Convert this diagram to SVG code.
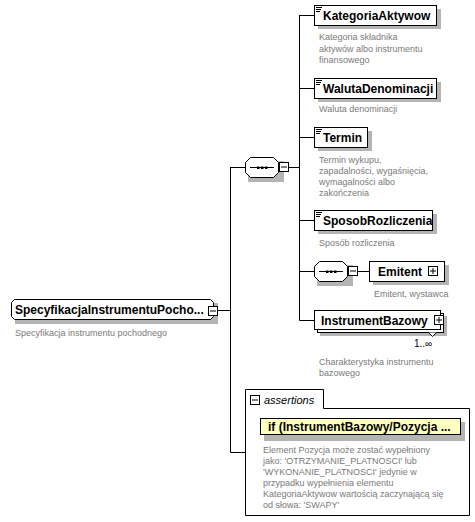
<svg xmlns="http://www.w3.org/2000/svg" width="475" height="522" viewBox="0 0 475 522">
<style>
.box{fill:#fff;stroke:#000;stroke-width:1}
.sh{fill:#b4b4b4;stroke:none}
.ln{fill:none;stroke:#000;stroke-width:1}
.nm{font-family:"Liberation Sans",Arial,sans-serif;font-size:12px;font-weight:bold;fill:#000}
.ds{font-family:"Liberation Sans",Arial,sans-serif;font-size:9px;fill:#7a7a7a}
.oc{font-family:"Liberation Sans",Arial,sans-serif;font-size:10px;fill:#000}
.it{font-family:"Liberation Sans",Arial,sans-serif;font-size:11px;font-style:italic;fill:#000}
</style>
<defs>
<g id="icon"><path d="M0,0.5H6M0,2.5H5M0,4.5H4" stroke="#000" stroke-width="1" fill="none"/></g>
<g id="minus"><rect x="0.5" y="0.5" width="9" height="9" fill="#fff" stroke="#000"/><path d="M2,5H8" stroke="#000"/></g>
<g id="plus"><rect x="0.5" y="0.5" width="9" height="9" fill="#fff" stroke="#000"/><path d="M2,5H8M5,2V8" stroke="#000"/></g>
<g id="seq">
<path d="M3,3H39V24H3Z" class="sh" transform="translate(1,1)"/>
<path d="M6.5,0.5H29.5L34.5,5.5V15.5L29.5,20.5H6.5L1.5,15.5V5.5Z" fill="#fff" stroke="#000"/>
<path d="M6,10.5H30" stroke="#000"/>
<rect x="13" y="9.5" width="2.5" height="2.5" fill="#000"/>
<rect x="17" y="9.5" width="2.5" height="2.5" fill="#000"/>
<rect x="21" y="9.5" width="2.5" height="2.5" fill="#000"/>
</g>
</defs>

<g id="connectors">
<path class="ln" d="M217,310.5H230.5M230.5,167V452.5H245"/>
<path class="ln" d="M230.5,167.5H245"/>
<path class="ln" d="M289,167.5H299.5M299.5,15V320.5"/>
<path class="ln" d="M299.5,15.5H314M299.5,88.5H314M299.5,137.5H314M299.5,220.5H314M299.5,271.5H314M299.5,320.5H314"/>
<path class="ln" d="M358,271.5H369"/>
</g>

<g id="SpecyfikacjaInstrumentuPochodnego">
<rect class="sh" x="15" y="303" width="203" height="21"/>
<path class="box" d="M14.5,299.5H210.5L213.5,302.5V316.5L210.5,319.5H14.5L11.5,316.5V302.5Z"/>
<text class="nm" x="15" y="314">SpecyfikacjaInstrumentuPocho...</text>
<use href="#minus" x="208" y="306"/>
<text class="ds" x="15" y="336">Specyfikacja instrumentu pochodnego</text>
</g>

<g id="sequence1">
<use href="#seq" x="244" y="157"/>
<use href="#minus" x="279" y="162"/>
</g>

<g id="KategoriaAktywow">
<rect class="sh" x="318" y="9" width="123" height="20"/>
<rect class="box" x="314.5" y="5.5" width="122" height="20"/>
<use href="#icon" x="316" y="7"/>
<text class="nm" x="323" y="20">KategoriaAktywow</text>
<text class="ds" x="319" y="40">Kategoria składnika</text>
<text class="ds" x="319" y="51.5">aktywów albo instrumentu</text>
<text class="ds" x="319" y="63">finansowego</text>
</g>

<g id="WalutaDenominacji">
<rect class="sh" x="318" y="82" width="123" height="20"/>
<rect class="box" x="314.5" y="78.5" width="122" height="20"/>
<use href="#icon" x="316" y="80"/>
<text class="nm" x="323" y="93">WalutaDenominacji</text>
<text class="ds" x="319" y="112">Waluta denominacji</text>
</g>

<g id="Termin">
<rect class="sh" x="318" y="131" width="54" height="20"/>
<rect class="box" x="314.5" y="127.5" width="53" height="20"/>
<use href="#icon" x="316" y="129"/>
<text class="nm" x="323" y="142">Termin</text>
<text class="ds" x="319" y="163">Termin wykupu,</text>
<text class="ds" x="319" y="174">zapadalności, wygaśnięcia,</text>
<text class="ds" x="319" y="185">wymagalności albo</text>
<text class="ds" x="319" y="196">zakończenia</text>
</g>

<g id="SposobRozliczenia">
<rect class="sh" x="318" y="214" width="119" height="20"/>
<rect class="box" x="314.5" y="210.5" width="118" height="20"/>
<use href="#icon" x="316" y="212"/>
<text class="nm" x="323" y="225">SposobRozliczenia</text>
<text class="ds" x="319" y="246">Sposób rozliczenia</text>
</g>

<g id="sequence2">
<use href="#seq" x="313" y="261"/>
<use href="#minus" x="348" y="266"/>
</g>

<g id="Emitent">
<rect class="sh" x="373" y="265" width="76" height="20"/>
<rect class="box" x="369.5" y="261.5" width="75" height="20"/>
<text class="nm" x="378" y="276">Emitent</text>
<use href="#plus" x="428" y="266"/>
<text class="ds" x="374" y="297">Emitent, wystawca</text>
</g>

<g id="InstrumentBazowy">
<rect class="sh" x="320" y="316" width="127" height="20"/>
<rect class="box" x="317.5" y="313.5" width="126" height="19"/>
<rect class="box" x="314.5" y="310.5" width="126" height="19"/>
<text class="nm" x="321" y="325">InstrumentBazowy</text>
<use href="#plus" x="434" y="315"/>
<path d="M428.5,332.5L432.5,336.5L436.5,332.5" fill="#fff" stroke="#000"/>
<text class="oc" x="414" y="347">1..∞</text>
<text class="ds" x="319" y="365">Charakterystyka instrumentu</text>
<text class="ds" x="319" y="376">bazowego</text>
</g>

<g id="assertions">
<path class="box" d="M245.5,389.5H323.5V408.5H469.5V515.5H245.5Z"/>
<use href="#minus" x="250" y="395"/>
<text class="it" x="264" y="404">assertions</text>
<rect class="sh" x="264" y="422" width="201" height="19"/>
<rect x="260.5" y="418.5" width="200" height="16" fill="#ffffc0" stroke="#000"/>
<text class="nm" x="268" y="431">if (InstrumentBazowy/Pozycja ...</text>
<text class="ds" x="263" y="453">Element Pozycja może zostać wypełniony</text>
<text class="ds" x="263" y="464">jako: 'OTRZYMANIE_PLATNOSCI' lub</text>
<text class="ds" x="263" y="475">'WYKONANIE_PLATNOSCI' jedynie w</text>
<text class="ds" x="263" y="486">przypadku wypełnienia elementu</text>
<text class="ds" x="263" y="497">KategoriaAktywow wartością zaczynającą się</text>
<text class="ds" x="263" y="508">od słowa: 'SWAPY'</text>
</g>
</svg>
